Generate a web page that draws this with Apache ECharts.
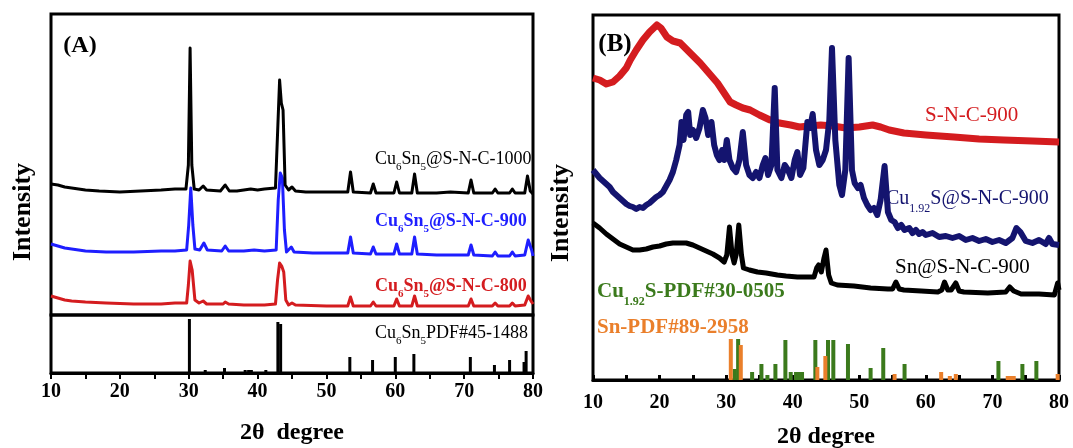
<!DOCTYPE html>
<html>
<head>
<meta charset="utf-8">
<script src="https://cdn.jsdelivr.net/npm/echarts@6/dist/echarts.min.js"></script>
<style>
  html, body { margin: 0; padding: 0; background: #fff; }
  #chart { width: 1073px; height: 448px; }
</style>
</head>
<body>
<div id="chart"></div>
<script>
// ---- panel A : Cu6Sn5@S-N-C, intensity in a.u. (offset curves) ----
const aCurve1000 = [[10,131],[11,130],[12,128],[13,127],[14,126],[15,125],[17,124],[20,123],[23,124],[26,125],[28,126],[29.6,126],[29.95,150],[30.2,267],[30.45,150],[30.8,126],[31.5,125],[32.1,129],[32.6,125],[34.6,124],[35.3,130],[35.9,124],[37,124],[39,126],[40,125],[41,126],[42.6,127],[42.95,190],[43.2,235],[43.45,212],[43.7,205],[44.0,130],[44.5,125],[45,128],[45.5,124],[47,123],[50,123],[53.1,123],[53.5,143],[53.9,123],[56.4,122],[56.8,131],[57.2,122],[59.8,122],[60.2,133],[60.6,122],[62.4,122],[62.8,141],[63.2,122],[66,122],[68,123],[70.6,122],[71.0,135],[71.4,122],[74.1,122],[74.5,126],[74.9,122],[76.6,122],[77,126],[77.4,122],[78.8,122],[79.2,139],[79.6,124],[80,121]];
const aCurve900 = [[10,71],[11,69],[12,67],[13,66],[15,64],[18,63],[22,63],[26,64],[28,64],[29.7,65],[30.0,90],[30.3,127],[30.6,90],[30.9,66],[31.6,65],[32.2,72],[32.7,65],[34.8,64],[35.3,69],[35.8,64],[38,64],[39.5,65],[41,64],[42.7,65],[43.0,115],[43.3,142],[43.6,137],[43.9,85],[44.2,63],[44.9,68],[45.3,63],[48,62],[53.1,62],[53.5,78],[53.9,62],[56.4,61],[56.8,68],[57.2,61],[59.8,61],[60.2,71],[60.6,61],[62.4,61],[62.8,78],[63.2,61],[66,60],[70.6,60],[71,70],[71.4,60],[74.1,59],[74.5,63],[74.9,59],[76.6,59],[77,63],[77.4,59],[78.8,60],[79.3,75],[79.8,65],[80,59]];
const aCurve800 = [[10,19],[11,17],[12,15],[13,14],[15,13],[18,12],[22,11],[26,11],[28,12],[29.7,12],[29.95,30],[30.2,54],[30.5,45],[30.9,15],[31.5,12],[32.1,14],[32.6,11],[35,11],[35.3,13],[35.8,11],[38,10],[41,10],[42.6,11],[42.9,35],[43.2,52],[43.5,49],[43.8,43],[44.1,15],[44.5,10],[45,12],[45.5,10],[50,9],[53.1,9],[53.5,18],[53.9,9],[56.4,9],[56.8,13],[57.2,9],[59.8,9],[60.2,16],[60.6,9],[62.4,9],[62.8,19],[63.2,9],[70.6,9],[71,16],[71.4,9],[74.1,9],[74.5,12],[74.9,9],[76.6,9],[77,12],[77.4,9],[78.8,10],[79.3,19],[79.8,13],[80,11]];
// Cu6Sn5 PDF#45-1488 reference lines
const aPdf = [[30.1,54],[32.4,3],[35.2,5],[38.2,3],[38.7,3],[39.1,3],[41.2,3],[42.95,51],[43.35,49],[53.4,16],[56.7,13],[60.0,16],[62.7,19],[70.9,16],[74.4,8],[76.6,13],[78.7,11],[79.0,22]];

// ---- panel B ----
const bSNC = [[10,302],[11,300],[12,296],[13,298],[14,304],[15,312],[15.6,320],[16.5,330],[17.5,340],[18.5,348],[19.6,355],[20.2,352],[21.1,343],[22,339],[23.1,337],[24.6,327],[26.1,317],[27.4,307],[28.7,297],[29.7,287],[30.6,278],[31.5,275],[32.5,272],[33.6,270],[35,265],[36.6,260],[38,257],[39.7,255],[41,253],[42.5,254],[44.2,255],[46,254],[48,252],[50,253],[51,254],[52,255],[53.2,253],[54.5,250],[56.7,247],[60,245],[64.2,243],[68,241],[71.7,240],[76,239],[80,238]];
const bCuS = [[10,210],[10.5,206],[11,202],[11.5,199],[12,196],[12.5,193],[13,188],[13.5,185],[14,182],[14.5,179],[15,176],[15.5,174],[16,173],[16.5,171],[17,173],[17.5,172],[18,175],[18.5,177],[19,180],[19.5,183],[20,185],[20.5,188],[21,194],[21.5,200],[22,208],[22.5,220],[23,235],[23.3,258],[23.6,240],[24.0,265],[24.3,268],[24.6,245],[25,250],[25.5,242],[26,252],[26.5,270],[26.9,262],[27.3,245],[27.8,258],[28.2,235],[28.6,225],[29,220],[29.4,230],[29.7,220],[30.1,240],[30.5,220],[31,212],[31.5,208],[32,220],[32.5,248],[33,215],[33.5,205],[34,202],[34.5,208],[35,202],[35.5,215],[35.9,222],[36.3,205],[36.8,215],[37.3,292],[37.7,210],[38.3,202],[38.8,215],[39.3,210],[39.8,202],[40.3,220],[40.7,228],[41.1,205],[41.6,212],[42.2,258],[42.6,252],[43.0,266],[43.5,230],[44.0,215],[44.5,220],[45.0,230],[45.5,260],[45.9,332],[46.4,240],[47.0,195],[47.4,185],[47.9,210],[48.4,322],[48.9,210],[49.3,197],[49.8,192],[50.2,195],[50.7,182],[51.2,175],[51.7,170],[52.2,172],[52.7,165],[53.2,180],[53.8,214],[54.3,168],[54.8,160],[55.3,158],[55.8,152],[56.3,155],[56.8,150],[57.5,152],[58,147],[58.5,150],[59,146],[59.5,148],[60,145],[61,147],[62,143],[63,144],[64,142],[65,144],[66,140],[67,142],[68,139],[69,141],[70,138],[71,140],[72,137],[73,142],[73.6,152],[74.2,148],[75,139],[76,137],[77,140],[78,136],[78.5,142],[79,136],[80,135]];
const bSn = [[10,157],[11,152],[12,146],[13,141],[14,136],[15,133],[16,130],[17,130],[18,131],[19,133],[20,134],[21,136],[22,137],[23,137],[24,137],[25,135],[26,132],[27,129],[28,126],[29,122],[29.7,118],[30.1,125],[30.5,153],[30.9,125],[31.2,117],[31.5,125],[31.9,155],[32.3,125],[32.6,112],[33.5,110],[34.7,108],[36,107],[37.7,105],[39,104],[40.7,103],[42,103],[43.2,103],[43.6,112],[43.9,115],[44.3,108],[44.7,122],[45.0,130],[45.4,105],[45.8,97],[46.7,95],[49.2,94],[51.7,92],[54.3,91],[55.0,91],[55.5,98],[56.0,91],[56.7,90],[59.3,89],[61.8,88],[62.4,90],[62.8,98],[63.3,90],[63.8,90],[64.5,97],[65.0,89],[65.7,88],[69.3,87],[72.0,88],[72.6,93],[73.2,89],[74.3,86],[77,86],[79.3,85],[79.8,97],[80,90]];
// reference cards
const bPdfCuS = [[31.3,11],[31.8,41],[33.9,8],[35.3,16],[36.2,5],[37.4,16],[38.9,40],[39.7,8],[40.5,8],[40.9,8],[41.4,8],[43.4,40],[45.3,40],[46.1,40],[48.3,36],[51.7,12],[53.6,32],[56.8,16],[70.9,19],[74.5,16],[76.6,19]];
const bPdfSn = [[30.7,41],[32.2,35],[43.7,13],[44.9,24],[55.3,6],[62.3,8],[63.6,4],[64.5,6],[72.3,4],[72.8,4],[73.2,4],[79.8,6]];

const SERIF = '"Liberation Serif", "Times New Roman", serif';
const RED = '#d41c1f', BLUE = '#1e1eff', NAVY = '#14146f', GREEN = '#3b7a1c', ORANGE = '#ea7f2b';

// text with subscripts, centred vertically on the main glyphs
function subLabel(x, y, text, color, size, weight, subSize, drop) {
  const lh = size + 2;
  return {
    type: 'text', x: x, y: y - lh / 2,
    style: {
      text: text, fill: color, align: 'left', verticalAlign: 'top',
      rich: {
        m: { fontFamily: SERIF, fontSize: size, fontWeight: weight, lineHeight: lh, verticalAlign: 'top' },
        s: { fontFamily: SERIF, fontSize: subSize, fontWeight: weight, lineHeight: subSize, verticalAlign: 'top',
             padding: [lh / 2 + drop - subSize / 2, 0, 0, 0] }
      }
    }
  };
}
function plainText(x, y, text, size, rotation) {
  return {
    type: 'text', x: x, y: y, rotation: rotation || 0,
    style: { text: text, fill: '#000', fontFamily: SERIF, fontSize: size, fontWeight: 'bold',
             align: 'center', verticalAlign: 'middle' }
  };
}

const tickFont = { color: '#000', fontFamily: SERIF, fontSize: 20, fontWeight: 'bold' };
const nameFont = { color: '#000', fontFamily: SERIF, fontSize: 24, fontWeight: 'bold' };
// fixed frames: do not let v6 shrink the grids to fit labels
const frame = { show: true, borderColor: '#000', borderWidth: 3, backgroundColor: 'transparent',
                containLabel: false, outerBoundsMode: 'none' };

function line(data, color, width, xi) {
  return { type: 'line', data: data, xAxisIndex: xi, yAxisIndex: xi, showSymbol: false, symbol: 'none',
           lineStyle: { color: color, width: width, join: 'round' }, silent: true };
}
function sticks(data, color, width, xi) {
  return { type: 'bar', data: data, xAxisIndex: xi, yAxisIndex: xi, barWidth: width, barGap: '-100%',
           itemStyle: { color: color }, silent: true };
}

const chart = echarts.init(document.getElementById('chart'), null, { renderer: 'canvas' });
chart.setOption({
  animation: false,
  backgroundColor: '#fff',
  grid: [
    Object.assign({ left: 51, top: 14, width: 482, height: 301 }, frame),
    Object.assign({ left: 51, top: 315, width: 482, height: 58 }, frame),
    Object.assign({ left: 593, top: 15, width: 466, height: 365 }, frame)
  ],
  xAxis: [
    { gridIndex: 0, type: 'value', min: 10, max: 80, show: false },
    { gridIndex: 1, type: 'value', min: 10, max: 80, interval: 10,
      axisLine: { show: true, lineStyle: { color: '#000', width: 3 } },
      axisTick: { show: true, inside: false, length: 6, lineStyle: { color: '#000', width: 2 } },
      minorTick: { show: true, splitNumber: 2, length: 6, lineStyle: { color: '#000', width: 2 } },
      splitLine: { show: false },
      axisLabel: Object.assign({ margin: 9 }, tickFont),
      name: '2\u03b8  degree', nameLocation: 'middle', nameGap: 48, nameTextStyle: nameFont },
    { gridIndex: 2, type: 'value', min: 10, max: 80, interval: 10,
      axisLine: { show: true, lineStyle: { color: '#000', width: 3 } },
      axisTick: { show: true, inside: true, length: 5, lineStyle: { color: '#000', width: 3 } },
      minorTick: { show: true, splitNumber: 2, length: 5, lineStyle: { color: '#000', width: 3 } },
      splitLine: { show: false },
      axisLabel: Object.assign({ margin: 13 }, tickFont),
      name: '2\u03b8 degree', nameLocation: 'middle', nameGap: 45, nameTextStyle: nameFont }
  ],
  yAxis: [
    { gridIndex: 0, type: 'value', min: 0, max: 301, show: false },
    { gridIndex: 1, type: 'value', min: 0, max: 58, show: false },
    { gridIndex: 2, type: 'value', min: 0, max: 365, show: false }
  ],
  graphic: [
    plainText(80, 46, '(A)', 24),
    plainText(615, 45, '(B)', 25),
    plainText(23, 212, 'Intensity', 26, Math.PI / 2),
    plainText(561, 213, 'Intensity', 26, Math.PI / 2),
    subLabel(375, 160, '{m|Cu}{s|6}{m|Sn}{s|5}{m|@S-N-C-1000}', '#000', 18, 'normal', 11, 7),
    subLabel(375, 222, '{m|Cu}{s|6}{m|Sn}{s|5}{m|@S-N-C-900}', BLUE, 18, 'bold', 11, 7),
    subLabel(375, 287, '{m|Cu}{s|6}{m|Sn}{s|5}{m|@S-N-C-800}', RED, 18, 'bold', 11, 7),
    subLabel(375, 334, '{m|Cu}{s|6}{m|Sn}{s|5}{m|PDF#45-1488}', '#000', 18, 'normal', 11, 7),
    subLabel(925, 116, '{m|S-N-C-900}', RED, 21, 'normal', 12, 9),
    subLabel(886, 200, '{m|Cu}{s|1.92}{m|S@S-N-C-900}', NAVY, 20, 'normal', 12, 9),
    subLabel(895, 268, '{m|Sn@S-N-C-900}', '#000', 21, 'normal', 12, 9),
    subLabel(597, 293, '{m|Cu}{s|1.92}{m|S-PDF#30-0505}', GREEN, 21, 'bold', 12, 9),
    subLabel(597, 329, '{m|Sn-PDF#89-2958}', ORANGE, 21, 'bold', 12, 9)
  ],
  series: [
    line(aCurve800, RED, 3, 0),
    line(aCurve900, BLUE, 3, 0),
    line(aCurve1000, '#000', 3, 0),
    sticks(aPdf, '#000', 3, 1),
    line(bSNC, RED, 7, 2),
    line(bCuS, NAVY, 6, 2),
    line(bSn, '#000', 5, 2),
    sticks(bPdfCuS, GREEN, 4, 2),
    sticks(bPdfSn, ORANGE, 4, 2)
  ]
});
</script>
</body>
</html>
